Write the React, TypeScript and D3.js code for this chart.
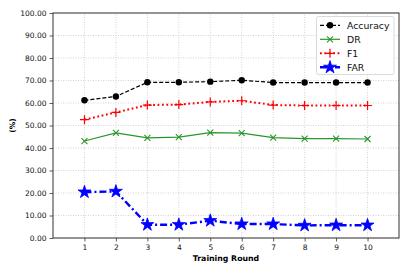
import React, { useEffect, useRef } from 'react';
import * as d3 from 'd3';

const rounds = [1, 2, 3, 4, 5, 6, 7, 8, 9, 10];
const accuracy = [61.2, 62.9, 69.2, 69.2, 69.5, 70.1, 69.1, 69.1, 69.1, 69.1];
const dr = [43.1, 46.7, 44.5, 44.8, 46.8, 46.6, 44.6, 44.2, 44.2, 44.0];
const f1 = [52.6, 55.8, 59.1, 59.3, 60.5, 61.0, 59.1, 58.9, 58.9, 58.9];
const far = [20.4, 20.7, 5.9, 5.9, 7.7, 6.2, 6.2, 5.6, 5.7, 5.7];
const yTicks = [0, 10, 20, 30, 40, 50, 60, 70, 80, 90, 100];

interface Series {
  name: string;
  values: number[];
  color: string;
  dash: string;
  width: number;
  marker: string;
}

const series: Series[] = [
  { name: 'Accuracy', values: accuracy, color: '#000000', dash: '4,2', width: 1.2, marker: 'circle' },
  { name: 'DR', values: dr, color: '#2a962a', dash: '', width: 1.2, marker: 'x' },
  { name: 'F1', values: f1, color: '#ff0000', dash: '1.8,2.6', width: 2, marker: 'plus' },
  { name: 'FAR', values: far, color: '#0000ff', dash: '7,3,2,3', width: 2.4, marker: 'star' },
];

const App: React.FC = () => {
  const svgRef = useRef<SVGSVGElement>(null);
  const width = 409;
  const height = 273;

  useEffect(() => {
    if (!svgRef.current) return;
    const svg = d3.select(svgRef.current);
    svg.selectAll('*').remove();

    const margin = { top: 13, right: 10, bottom: 35, left: 53 };
    const x = d3.scaleLinear().domain([0, 11]).range([margin.left, width - margin.right]);
    const y = d3.scaleLinear().domain([0, 100]).range([height - margin.bottom, margin.top]);
    const font = 'DejaVu Sans, sans-serif';

    // grid
    const grid = svg.append('g');
    grid.selectAll('line.gx').data(rounds).enter().append('line')
      .attr('x1', d => x(d)).attr('x2', d => x(d))
      .attr('y1', y(0)).attr('y2', y(100))
      .attr('stroke', '#c8c8c8').attr('stroke-width', 0.8).attr('stroke-dasharray', '1,1.5');
    grid.selectAll('line.gy').data(yTicks).enter().append('line')
      .attr('x1', x(0)).attr('x2', x(11))
      .attr('y1', d => y(d)).attr('y2', d => y(d))
      .attr('stroke', '#c8c8c8').attr('stroke-width', 0.8).attr('stroke-dasharray', '1,1.5');

    // axes
    const xAxis = d3.axisBottom(x).tickValues(rounds).tickFormat(d3.format('d')).tickSize(3.5).tickPadding(3);
    const yAxis = d3.axisLeft(y).tickValues(yTicks).tickFormat(d3.format('.2f')).tickSize(3.5).tickPadding(3);
    const gx = svg.append('g').attr('transform', `translate(0,${y(0)})`).call(xAxis);
    const gy = svg.append('g').attr('transform', `translate(${x(0)},0)`).call(yAxis);
    [gx, gy].forEach(g => {
      g.select('.domain').remove();
      g.selectAll('text').attr('font-family', font).attr('font-size', 7.5).attr('fill', '#111');
      g.selectAll('line').attr('stroke', '#333').attr('stroke-width', 0.8);
    });

    svg.append('rect')
      .attr('x', x(0)).attr('y', y(100))
      .attr('width', x(11) - x(0)).attr('height', y(0) - y(100))
      .attr('fill', 'none').attr('stroke', '#333').attr('stroke-width', 1);

    svg.append('text')
      .attr('x', (x(0) + x(11)) / 2).attr('y', 261)
      .attr('text-anchor', 'middle').attr('font-family', font)
      .attr('font-size', 7.8).attr('font-weight', 'bold').text('Training Round');
    svg.append('text')
      .attr('transform', `translate(15,${(y(0) + y(100)) / 2}) rotate(-90)`)
      .attr('text-anchor', 'middle').attr('font-family', font)
      .attr('font-size', 7.5).attr('font-weight', 'bold').text('(%)');

    const drawMarker = (g: d3.Selection<SVGGElement, unknown, null, undefined>, s: Series, cx: number, cy: number) => {
      if (s.marker === 'circle') {
        g.append('circle').attr('cx', cx).attr('cy', cy).attr('r', 3.2).attr('fill', s.color);
      } else if (s.marker === 'x') {
        const r = 3;
        g.append('path')
          .attr('d', `M${cx - r},${cy - r}L${cx + r},${cy + r}M${cx - r},${cy + r}L${cx + r},${cy - r}`)
          .attr('stroke', s.color).attr('stroke-width', 1.1);
      } else if (s.marker === 'plus') {
        const r = 4.5;
        g.append('path')
          .attr('d', `M${cx - r},${cy}L${cx + r},${cy}M${cx},${cy - r}L${cx},${cy + r}`)
          .attr('stroke', s.color).attr('stroke-width', 1.2);
      } else if (s.marker === 'star') {
        const star = d3.symbol().type(d3.symbolStar).size(52);
        g.append('path').attr('d', star()).attr('transform', `translate(${cx},${cy})`)
          .attr('fill', s.color).attr('stroke', s.color).attr('stroke-width', 0.8);
      }
    };

    const line = d3.line<number>().x((_, i) => x(rounds[i])).y(d => y(d));
    series.forEach(s => {
      const g = svg.append('g');
      g.append('path').datum(s.values).attr('d', line)
        .attr('fill', 'none').attr('stroke', s.color).attr('stroke-width', s.width)
        .attr('stroke-dasharray', s.dash || null);
      s.values.forEach((v, i) => drawMarker(g, s, x(rounds[i]), y(v)));
    });

    // legend
    const lg = svg.append('g');
    lg.append('rect').attr('x', 316.5).attr('y', 16.5).attr('width', 77.5).attr('height', 58)
      .attr('rx', 2).attr('fill', 'white').attr('fill-opacity', 0.85)
      .attr('stroke', '#d0d0d0').attr('stroke-width', 0.8);
    series.forEach((s, i) => {
      const ly = 25.3 + i * 14;
      const row = lg.append('g');
      row.append('line').attr('x1', 320).attr('x2', 340).attr('y1', ly).attr('y2', ly)
        .attr('stroke', s.color).attr('stroke-width', s.width).attr('stroke-dasharray', s.dash || null);
      drawMarker(row, s, 330, ly);
      row.append('text').attr('x', 347).attr('y', ly + 3.4)
        .attr('font-family', font).attr('font-size', 9.3).attr('fill', '#111').text(s.name);
    });
  }, []);

  return (
    <svg ref={svgRef} width={width} height={height}
      style={{ position: 'absolute', left: 0, top: 0, background: 'white' }} />
  );
};

export default App;
